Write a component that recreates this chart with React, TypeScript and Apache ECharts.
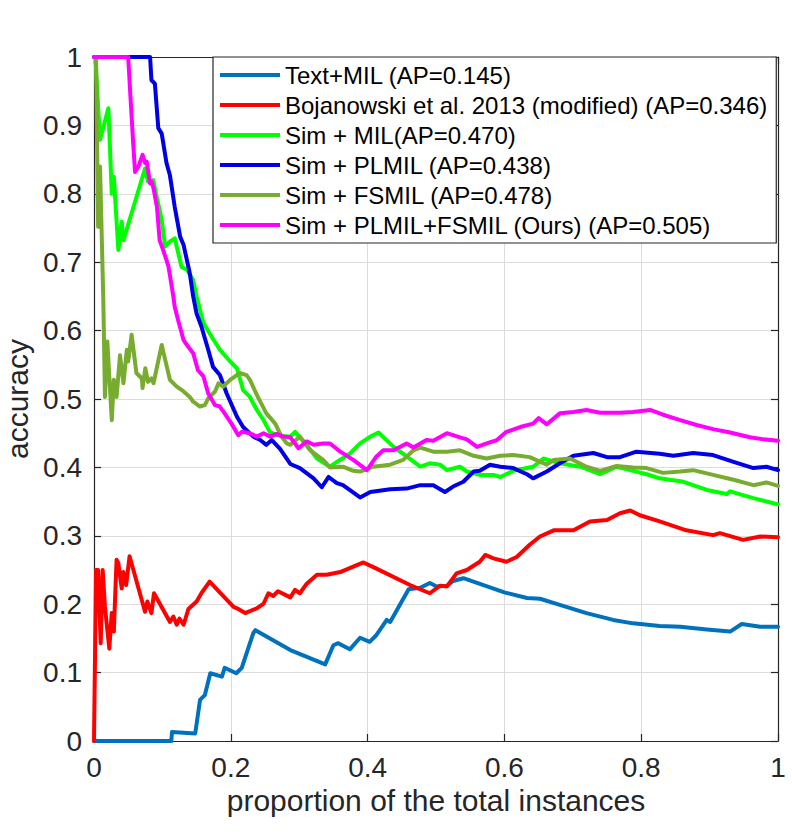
import React, { useEffect, useRef } from "react";
import * as echarts from "echarts";

const seriesNames = [
  "Text+MIL (AP=0.145)",
  "Bojanowski et al. 2013 (modified) (AP=0.346)",
  "Sim + MIL(AP=0.470)",
  "Sim + PLMIL (AP=0.438)",
  "Sim + FSMIL (AP=0.478)",
  "Sim + PLMIL+FSMIL (Ours) (AP=0.505)",
];

const seriesColors = ["#0072BD", "#FF0000", "#00FF00", "#0000E6", "#77AC30", "#FF00FF"];

const textMIL = [
  [0, 0], [0.113, 0], [0.114, 0.013], [0.148, 0.011], [0.155, 0.06], [0.162, 0.067], [0.17, 0.099],
  [0.187, 0.094], [0.191, 0.107], [0.208, 0.099], [0.216, 0.107], [0.233, 0.158], [0.236, 0.162],
  [0.287, 0.133], [0.338, 0.112], [0.35, 0.14], [0.357, 0.143], [0.374, 0.134], [0.389, 0.151],
  [0.403, 0.145], [0.413, 0.155], [0.428, 0.177], [0.433, 0.174], [0.46, 0.222], [0.477, 0.224],
  [0.491, 0.231], [0.501, 0.226], [0.516, 0.227], [0.525, 0.234], [0.54, 0.238], [0.601, 0.217],
  [0.633, 0.209], [0.652, 0.208], [0.681, 0.199], [0.72, 0.187], [0.759, 0.177], [0.788, 0.172],
  [0.827, 0.168], [0.857, 0.167], [0.896, 0.163], [0.93, 0.16], [0.947, 0.171], [0.974, 0.167], [1, 0.167],
];

const bojanowski = [
  [0, 0], [0.003, 0.25], [0.006, 0.25], [0.0098, 0.143], [0.0127, 0.25], [0.016, 0.196], [0.0224, 0.135],
  [0.0259, 0.187], [0.029, 0.16], [0.033, 0.265], [0.0356, 0.26], [0.0405, 0.223], [0.0429, 0.247],
  [0.047, 0.228], [0.052, 0.27], [0.0746, 0.189], [0.078, 0.204], [0.084, 0.187], [0.0877, 0.216],
  [0.111, 0.174], [0.116, 0.182], [0.121, 0.17], [0.125, 0.179], [0.131, 0.17], [0.138, 0.193],
  [0.15, 0.204], [0.157, 0.216], [0.169, 0.233], [0.204, 0.196], [0.209, 0.194], [0.221, 0.187],
  [0.238, 0.194], [0.248, 0.201], [0.255, 0.216], [0.262, 0.212], [0.269, 0.219], [0.287, 0.21],
  [0.294, 0.221], [0.301, 0.216], [0.311, 0.23], [0.326, 0.243], [0.34, 0.243], [0.36, 0.247],
  [0.379, 0.255], [0.394, 0.261], [0.413, 0.252], [0.462, 0.228], [0.491, 0.216], [0.506, 0.227],
  [0.516, 0.226], [0.53, 0.245], [0.545, 0.25], [0.564, 0.262], [0.572, 0.272], [0.584, 0.267],
  [0.603, 0.262], [0.618, 0.269], [0.637, 0.287], [0.652, 0.299], [0.672, 0.308], [0.701, 0.308],
  [0.725, 0.321], [0.75, 0.323], [0.769, 0.333], [0.784, 0.337], [0.798, 0.33], [0.827, 0.321],
  [0.866, 0.308], [0.905, 0.301], [0.915, 0.304], [0.949, 0.294], [0.974, 0.299], [1, 0.298],
];

const simMIL = [
  [0.002, 1.0], [0.0088, 0.879], [0.021, 0.925], [0.026, 0.8], [0.029, 0.825], [0.032, 0.776],
  [0.0356, 0.718], [0.0405, 0.759], [0.043, 0.732], [0.0746, 0.837], [0.079, 0.818], [0.0867, 0.82],
  [0.0916, 0.796], [0.099, 0.762], [0.104, 0.723], [0.111, 0.73], [0.118, 0.735], [0.128, 0.693],
  [0.136, 0.689], [0.145, 0.674], [0.15, 0.65], [0.16, 0.611], [0.172, 0.591], [0.184, 0.572],
  [0.199, 0.555], [0.209, 0.545], [0.218, 0.513], [0.228, 0.503], [0.238, 0.484], [0.248, 0.469],
  [0.257, 0.452], [0.267, 0.447], [0.287, 0.445], [0.294, 0.452], [0.311, 0.433], [0.326, 0.413],
  [0.345, 0.401], [0.355, 0.408], [0.374, 0.42], [0.389, 0.435], [0.404, 0.445], [0.416, 0.451],
  [0.438, 0.43], [0.457, 0.416], [0.477, 0.401], [0.491, 0.406], [0.506, 0.404], [0.516, 0.396],
  [0.535, 0.401], [0.545, 0.394], [0.564, 0.389], [0.584, 0.389], [0.594, 0.386], [0.613, 0.395],
  [0.642, 0.401], [0.657, 0.413], [0.681, 0.406], [0.711, 0.401], [0.74, 0.39], [0.764, 0.401],
  [0.784, 0.396], [0.808, 0.39], [0.827, 0.384], [0.862, 0.379], [0.896, 0.367], [0.925, 0.361],
  [0.93, 0.365], [0.964, 0.355], [1, 0.346],
];

const simPLMIL = [
  [0, 1], [0.082, 1], [0.084, 0.966], [0.089, 0.961], [0.094, 0.896], [0.099, 0.888], [0.106, 0.845],
  [0.111, 0.827], [0.118, 0.781], [0.126, 0.737], [0.131, 0.725], [0.14, 0.684], [0.145, 0.65],
  [0.15, 0.625], [0.157, 0.606], [0.167, 0.572], [0.174, 0.547], [0.184, 0.535], [0.194, 0.508],
  [0.209, 0.474], [0.218, 0.459], [0.233, 0.445], [0.243, 0.44], [0.252, 0.433], [0.26, 0.44],
  [0.272, 0.427], [0.287, 0.405], [0.301, 0.399], [0.321, 0.384], [0.333, 0.371], [0.343, 0.386],
  [0.355, 0.377], [0.364, 0.374], [0.389, 0.356], [0.404, 0.364], [0.433, 0.368], [0.457, 0.369],
  [0.477, 0.374], [0.496, 0.374], [0.513, 0.364], [0.525, 0.372], [0.54, 0.379], [0.555, 0.394],
  [0.564, 0.395], [0.579, 0.404], [0.594, 0.401], [0.613, 0.399], [0.633, 0.39], [0.642, 0.384],
  [0.662, 0.394], [0.681, 0.406], [0.701, 0.417], [0.73, 0.421], [0.75, 0.415], [0.769, 0.415],
  [0.793, 0.423], [0.827, 0.42], [0.847, 0.417], [0.876, 0.421], [0.905, 0.418], [0.935, 0.408],
  [0.964, 0.399], [0.983, 0.401], [1, 0.396],
];

const simFSMIL = [
  [0.003, 1.0], [0.006, 0.752], [0.0088, 0.84], [0.0136, 0.645], [0.016, 0.503], [0.0195, 0.584],
  [0.026, 0.469], [0.029, 0.528], [0.033, 0.503], [0.038, 0.564], [0.043, 0.523], [0.048, 0.572],
  [0.05, 0.555], [0.055, 0.594], [0.062, 0.538], [0.07, 0.53], [0.071, 0.516], [0.075, 0.545],
  [0.079, 0.525], [0.084, 0.53], [0.087, 0.523], [0.099, 0.579], [0.111, 0.528], [0.121, 0.518],
  [0.131, 0.511], [0.14, 0.503], [0.145, 0.496], [0.155, 0.489], [0.162, 0.491], [0.167, 0.501],
  [0.177, 0.511], [0.182, 0.523], [0.189, 0.518], [0.199, 0.528], [0.213, 0.538], [0.223, 0.535],
  [0.228, 0.528], [0.238, 0.506], [0.252, 0.479], [0.265, 0.464], [0.274, 0.445], [0.282, 0.435],
  [0.287, 0.433], [0.301, 0.445], [0.316, 0.425], [0.335, 0.411], [0.345, 0.4], [0.364, 0.401],
  [0.379, 0.395], [0.389, 0.394], [0.408, 0.401], [0.433, 0.404], [0.452, 0.411], [0.467, 0.425],
  [0.477, 0.429], [0.496, 0.423], [0.516, 0.423], [0.535, 0.425], [0.555, 0.417], [0.574, 0.413],
  [0.594, 0.417], [0.613, 0.418], [0.637, 0.415], [0.662, 0.404], [0.672, 0.411], [0.696, 0.413],
  [0.72, 0.401], [0.74, 0.395], [0.764, 0.402], [0.788, 0.4], [0.808, 0.399], [0.832, 0.392],
  [0.857, 0.394], [0.876, 0.396], [0.905, 0.389], [0.935, 0.382], [0.964, 0.374], [0.983, 0.378],
  [1, 0.373],
];

const simOurs = [
  [0, 1], [0.05, 1], [0.053, 0.947], [0.057, 0.879], [0.06, 0.832], [0.065, 0.84], [0.071, 0.857],
  [0.0746, 0.845], [0.077, 0.847], [0.082, 0.815], [0.084, 0.818], [0.087, 0.808], [0.092, 0.781],
  [0.096, 0.732], [0.101, 0.718], [0.106, 0.703], [0.109, 0.693], [0.116, 0.65], [0.118, 0.635],
  [0.123, 0.615], [0.131, 0.586], [0.138, 0.576], [0.145, 0.567], [0.152, 0.542], [0.16, 0.533],
  [0.167, 0.508], [0.177, 0.491], [0.184, 0.489], [0.191, 0.479], [0.201, 0.464], [0.211, 0.447],
  [0.216, 0.452], [0.228, 0.45], [0.238, 0.445], [0.248, 0.45], [0.257, 0.445], [0.267, 0.449],
  [0.277, 0.445], [0.287, 0.444], [0.299, 0.428], [0.311, 0.438], [0.321, 0.433], [0.335, 0.435],
  [0.345, 0.435], [0.36, 0.423], [0.379, 0.411], [0.399, 0.396], [0.413, 0.416], [0.423, 0.425],
  [0.438, 0.425], [0.457, 0.435], [0.467, 0.429], [0.486, 0.44], [0.496, 0.439], [0.516, 0.45],
  [0.535, 0.444], [0.545, 0.441], [0.56, 0.43], [0.574, 0.435], [0.589, 0.44], [0.603, 0.452],
  [0.623, 0.459], [0.642, 0.464], [0.65, 0.472], [0.662, 0.463], [0.681, 0.479], [0.701, 0.481],
  [0.72, 0.484], [0.74, 0.48], [0.769, 0.48], [0.788, 0.481], [0.813, 0.484], [0.832, 0.477],
  [0.857, 0.469], [0.881, 0.462], [0.905, 0.456], [0.93, 0.451], [0.959, 0.444], [0.979, 0.441],
  [1, 0.439],
];

const allData = [textMIL, bojanowski, simMIL, simPLMIL, simFSMIL, simOurs];

const FONT = "'Liberation Sans', Arial, Helvetica, sans-serif";
const AXIS_COLOR = "#262626";

export default function App() {
  const ref = useRef<HTMLDivElement>(null);

  useEffect(() => {
    if (!ref.current) return;
    const chart = echarts.init(ref.current, undefined, { renderer: "svg" });

    const baseAxis = {
      type: "value" as const,
      min: 0,
      max: 1,
      axisLine: { show: true, onZero: false, lineStyle: { color: AXIS_COLOR, width: 1.2 } },
      axisTick: { show: true, inside: true, length: 7, lineStyle: { color: AXIS_COLOR, width: 1.2 } },
    };

    chart.setOption({
      animation: false,
      backgroundColor: "#ffffff",
      textStyle: { fontFamily: FONT },
      grid: { left: 94, right: 14, top: 57, bottom: 92, containLabel: false, outerBoundsMode: "none" },
      legend: {
        orient: "vertical",
        left: 213,
        top: 57,
        icon: "rect",
        itemWidth: 60,
        itemHeight: 4,
        itemGap: 0,
        padding: [3, 9, 3, 7],
        backgroundColor: "#ffffff",
        borderColor: AXIS_COLOR,
        borderWidth: 1.2,
        selectedMode: false,
        data: seriesNames,
        textStyle: { fontFamily: FONT, fontSize: 24, color: "#000000", lineHeight: 30 },
        z: 10,
      },
      xAxis: [
        {
          ...baseAxis,
          position: "bottom",
          interval: 0.2,
          axisLabel: { show: true, fontSize: 28, color: AXIS_COLOR, margin: 12, fontFamily: FONT },
          splitLine: { show: true, lineStyle: { color: "#dcdcdc", width: 1 } },
          name: "proportion of the total instances",
          nameLocation: "middle",
          nameGap: 42,
          nameTextStyle: { fontSize: 30, color: AXIS_COLOR, fontFamily: FONT },
        },
        {
          ...baseAxis,
          position: "top",
          interval: 0.2,
          axisLabel: { show: false },
          splitLine: { show: false },
        },
      ],
      yAxis: [
        {
          ...baseAxis,
          position: "left",
          interval: 0.1,
          axisLabel: { show: true, fontSize: 28, color: AXIS_COLOR, margin: 12, fontFamily: FONT },
          splitLine: { show: true, lineStyle: { color: "#dcdcdc", width: 1 } },
          name: "accuracy",
          nameLocation: "middle",
          nameGap: 57,
          nameTextStyle: { fontSize: 30, color: AXIS_COLOR, fontFamily: FONT },
        },
        {
          ...baseAxis,
          position: "right",
          interval: 0.1,
          axisLabel: { show: false },
          splitLine: { show: false },
        },
      ],
      series: seriesNames.map((name, i) => ({
        name,
        type: "line",
        xAxisIndex: 0,
        yAxisIndex: 0,
        data: allData[i],
        symbol: "none",
        showSymbol: false,
        clip: false,
        color: seriesColors[i],
        lineStyle: { color: seriesColors[i], width: 4, join: "round", cap: "round" },
        z: 2 + i,
      })),
    });

    return () => {
      chart.dispose();
    };
  }, []);

  return (
    <div
      ref={ref}
      style={{ position: "fixed", left: 0, top: 0, width: 792, height: 833, background: "#fff" }}
    />
  );
}
